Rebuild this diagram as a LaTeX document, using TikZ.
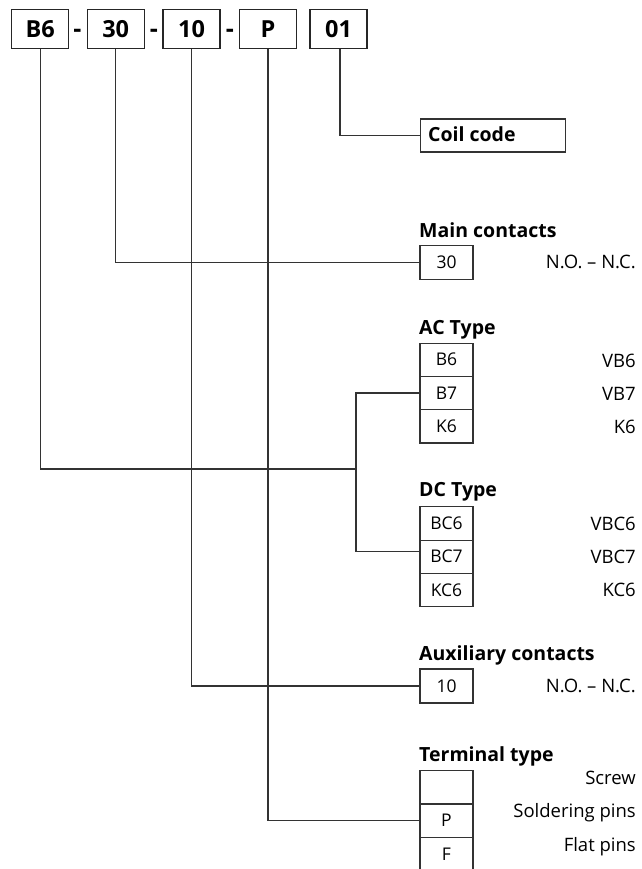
\documentclass[tikz,border=0pt]{standalone}
\usepackage{fontspec}
\setmainfont{Open Sans}
\begin{document}
\begin{tikzpicture}[x=1pt,y=-1pt,
  ln/.style={draw=black!80, line width=1.2pt},
  topbox/.style={draw=black!85, line width=1.2pt, minimum width=57pt, minimum height=39pt, inner sep=0pt, font=\fontsize{23.5}{26}\selectfont\bfseries},
  codebox/.style={draw=black!80, line width=1.1pt, minimum width=53pt, minimum height=33.3pt, inner sep=0pt, font=\fontsize{17.5}{19}\selectfont},
  dashtxt/.style={anchor=base, font=\fontsize{25}{27}\selectfont\bfseries, inner sep=0pt},
  title/.style={anchor=base west, inner sep=0pt, font=\fontsize{19.5}{22}\selectfont\bfseries},
  desc/.style={anchor=base east, inner sep=0pt, font=\fontsize{18.5}{20}\selectfont}
]
\useasboundingbox (0,0) rectangle (641,869);

% top code boxes
\node[topbox] (tB6) at (40.2,28.8) {B6};
\node[dashtxt] (d1) at (77.5,38) {-};
\node[topbox] (t30) at (115.7,28.8) {30};
\node[dashtxt] (d2) at (154,38) {-};
\node[topbox] (t10) at (191.5,28.8) {10};
\node[dashtxt] (d3) at (230,38) {-};
\node[topbox] (tP) at (268,28.8) {P};
\node[topbox] (t01) at (338.5,28.8) {01};

% coil code
\node[draw=black!80, line width=1.1pt, minimum width=145pt, minimum height=33pt, inner sep=0pt, anchor=west] (coil) at (419.5,135.5) {};
\node[anchor=base west, inner sep=0pt, font=\fontsize{19.5}{22}\selectfont\bfseries] (coiltxt) at (428,142) {Coil code};

% main contacts
\node[title] (hmain) at (419,237) {Main contacts};
\node[codebox] (m30) at (446.5,262.5) {30};
\node[desc] (dmain) at (636,268) {N.O. – N.C.};

% AC type
\node[title] (hac) at (419,334) {AC Type};
\node[codebox] (acB6) at (446.5,359.7) {B6};
\node[codebox] (acB7) at (446.5,393) {B7};
\node[codebox] (acK6) at (446.5,426.3) {K6};
\node[desc] (dacB6) at (636,367) {VB6};
\node[desc] (dacB7) at (636,400) {VB7};
\node[desc] (dacK6) at (636,433) {K6};

% DC type
\node[title] (hdc) at (419,496) {DC Type};
\node[codebox] (dcBC6) at (446.5,523.4) {BC6};
\node[codebox] (dcBC7) at (446.5,556.7) {BC7};
\node[codebox] (dcKC6) at (446.5,590) {KC6};
\node[desc] (ddcBC6) at (636,530) {VBC6};
\node[desc] (ddcBC7) at (636,563) {VBC7};
\node[desc] (ddcKC6) at (636,596) {KC6};

% auxiliary contacts
\node[title] (haux) at (419,660) {Auxiliary contacts};
\node[codebox, minimum height=34pt] (a10) at (446.5,686) {10};
\node[desc] (daux) at (636,692) {N.O. – N.C.};

% terminal type
\node[title] (hterm) at (419,761) {Terminal type};
\node[codebox] (tmS) at (446.5,787.5) {};
\node[codebox] (tmP) at (446.5,820.5) {P};
\node[codebox] (tmF) at (446.5,854) {F};
\node[desc] (dtS) at (636,784) {Screw};
\node[desc] (dtP) at (636,817) {Soldering pins};
\node[desc] (dtF) at (636,851) {Flat pins};

% connectors
\coordinate (jn) at (356,469);
\draw[ln] (tB6.south) |- (jn);
\draw[ln] (acB7.west) -| (jn) |- ([yshift=5pt]dcBC7.west);
\draw[ln] (t30.south) |- (m30.west);
\draw[ln] (t10.south) |- (a10.west);
\draw[ln] (tP.south) |- (tmP.west);
\draw[ln] ([xshift=1.5pt]t01.south) |- (coil.west);
\end{tikzpicture}
\end{document}
